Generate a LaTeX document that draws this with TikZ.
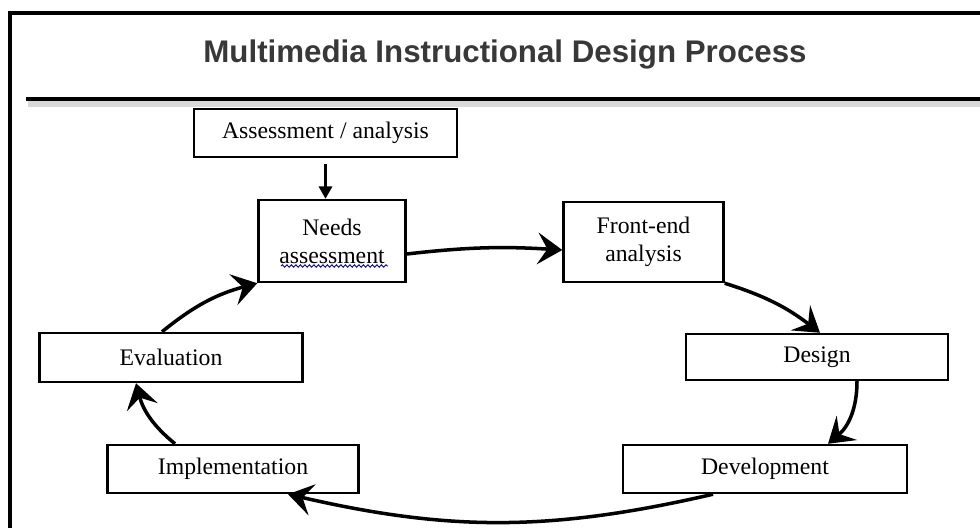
\documentclass[tikz,border=0pt]{standalone}
\usepackage{fontspec}
\setmainfont{Liberation Serif}
\newfontfamily\titlefont{Liberation Sans}
\usepackage{xcolor}
\usetikzlibrary{arrows.meta,decorations.pathmorphing}
\definecolor{titlegray}{HTML}{383838}

\begin{document}
\begin{tikzpicture}[x=0.2mm,y=-0.2mm,
    blk/.style={draw,line width=1.4pt,fill=white,align=center,inner sep=0pt,
      font=\fontsize{13.5}{16}\selectfont},
    cyc/.style={line width=2pt,-{Stealth[length=14pt,width=18pt,inset=5.5pt]}},
    down/.style={line width=1.4pt,-{Triangle[length=7pt,width=7.5pt]}}]
  \useasboundingbox (0,0) rectangle (980,528);
  \draw[line width=2.3pt] (980,13) -| (10,528);
  \draw[gray!30,line width=3pt] (28,104) -- (980,104);
  \draw[line width=2.8pt] (26,99) -- (980,99);
  \node[anchor=base,text=titlegray,font=\titlefont\bfseries\fontsize{17.8}{20}\selectfont] (ttl) at (505,63) {Multimedia Instructional Design Process};

  \node[blk,minimum width=52.6mm,minimum height=9.6mm] (assess) at (325.5,133) {Assessment / analysis};
  \node[blk,minimum width=29.4mm,minimum height=16.4mm] (needs) at (332,241) {Needs\\assessment};
  \node[blk,minimum width=32mm,minimum height=16mm] (front) at (643.5,242) {Front-end\\analysis};
  \node[blk,minimum width=52.4mm,minimum height=9.2mm] (design) at (817,357) {Design};
  \node[blk,minimum width=52.6mm,minimum height=9.8mm] (eval) at (171,357.5) {Evaluation};
  \node[blk,minimum width=50.2mm,minimum height=9.6mm] (impl) at (233,469) {Implementation};
  \node[blk,minimum width=56.8mm,minimum height=9.6mm] (dev) at (765,469) {Development};
  \draw[blue!70!black,line width=0.5pt,decorate,decoration={snake,amplitude=0.25mm,segment length=0.9mm}] (281,266) -- (388,266);

  \draw[down,shorten <=1.2mm] (assess.south) -- (assess.south |- needs.north);
  \draw[cyc] ([yshift=-2.6mm]needs.east) to[bend left=5] ([yshift=-1.6mm]front.west);
  \draw[cyc] (front.south east) to[bend left=10] ([xshift=0.6mm]design.north);
  \draw[cyc] ([xshift=8mm]design.south) to[bend left=25] ([xshift=12.6mm]dev.north);
  \draw[cyc] ([xshift=-10.4mm]dev.south) to[bend left=13] ([xshift=11mm]impl.south);
  \draw[cyc] ([xshift=-11.6mm]impl.north) to[bend left=18] ([xshift=-7mm]eval.south);
  \draw[cyc] ([xshift=-1.8mm]eval.north) to[bend left=12] (needs.south west);
\end{tikzpicture}
\end{document}
